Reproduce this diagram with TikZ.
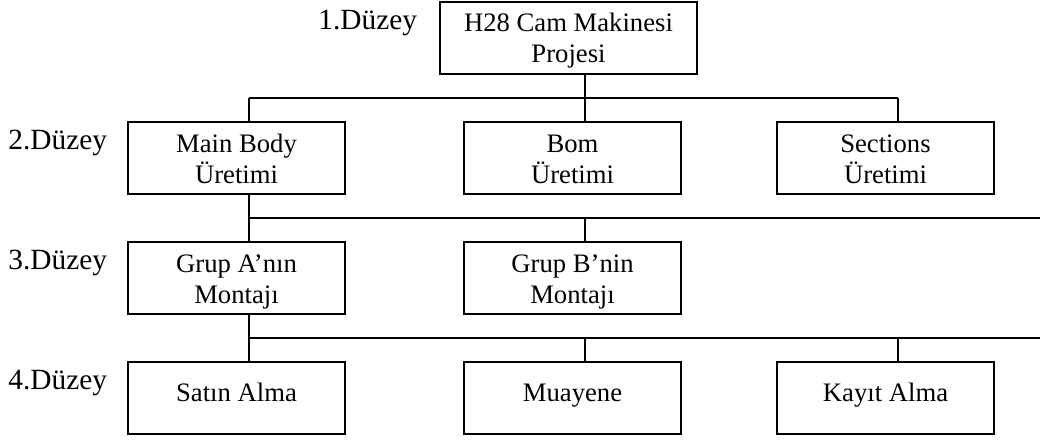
\documentclass[tikz,border=0pt]{standalone}
\usepackage{fontspec}
\setmainfont{Liberation Serif}
\usetikzlibrary{calc}
\begin{document}
\begin{tikzpicture}[x=0.75pt,y=-0.75pt,
  every node/.style={inner sep=0pt, outer sep=0pt},
  box/.style={draw, line width=1.4pt, anchor=north west,
    minimum width=162.75pt, minimum height=54pt, align=center,
    font=\fontsize{20}{23}\selectfont},
  % fixed text box sizes keep the baselines at the same place in every box
  twoline/.style={box, text height=38.5pt, text depth=0pt},
  oneline/.style={box, text height=6pt, text depth=0pt},
  lvl/.style={anchor=base east, font=\fontsize{22}{25}\selectfont},
  link/.style={line width=1.4pt}]
\useasboundingbox (0,0) rectangle (1040,441);

% level labels
\node[lvl] (l1) at (417,30)  {1.Düzey};
\node[lvl] (l2) at (107,150) {2.Düzey};
\node[lvl] (l3) at (107,270) {3.Düzey};
\node[lvl] (l4) at (107,390) {4.Düzey};

% boxes
\node[twoline, minimum width=192.75pt, text height=36.5pt] (top) at (440,2) {H28 Cam Makinesi\\Projesi};

\node[twoline] (mb)  at (128,122) {Main Body\\Üretimi};
\node[twoline] (bom) at (464,122) {Bom\\Üretimi};
\node[twoline] (sec) at (777,122) {Sections\\Üretimi};

\node[twoline] (ga) at (128,242) {Grup A’nın\\Montajı};
\node[twoline] (gb) at (464,242) {Grup B’nin\\Montajı};

\node[oneline] (sa) at (128,362) {Satın Alma};
\node[oneline] (mu) at (464,362) {Muayene};
\node[oneline] (ka) at (777,362) {Kayıt Alma};

% connection points, slightly right of each box's centre
\coordinate (top-s) at ($(top.south west)!0.565!(top.south east)$);
\foreach \n in {mb,bom,sec,ga,gb,sa,mu,ka}{
  \coordinate (\n-n) at ($(\n.north west)!0.558!(\n.north east)$);
  \coordinate (\n-s) at ($(\n.south west)!0.558!(\n.south east)$);
}
\coordinate (bus1) at (0,98);
\coordinate (bus2) at (1040,218);
\coordinate (bus3) at (1040,338);

% level 1 -> level 2
\draw[link] (top-s) -- (top-s |- bus1);
\draw[link] (mb-n |- bus1) -- (sec-n |- bus1);
\draw[link] (mb-n |- bus1) -- (mb-n);
\draw[link] (bom-n |- bus1) -- (bom-n);
\draw[link] (sec-n |- bus1) -- (sec-n);

% level 2 -> level 3
\draw[link] (mb-s) -- (ga-n);
\draw[link] (mb-s |- bus2) -- (bus2);
\draw[link] (gb-n |- bus2) -- (gb-n);

% level 3 -> level 4
\draw[link] (ga-s) -- (sa-n);
\draw[link] (ga-s |- bus3) -- (bus3);
\draw[link] (mu-n |- bus3) -- (mu-n);
\draw[link] (ka-n |- bus3) -- (ka-n);
\end{tikzpicture}
\end{document}
